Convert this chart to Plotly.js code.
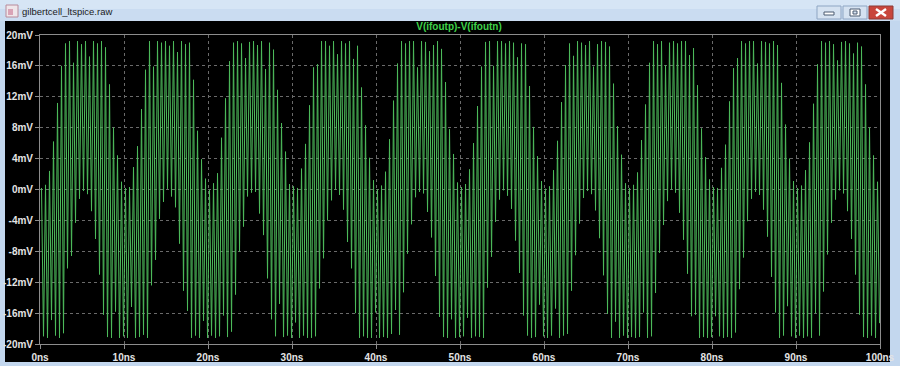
<!DOCTYPE html>
<html>
<head>
<meta charset="utf-8">
<script src="https://cdn.plot.ly/plotly-3.0.1.min.js"></script>
<style>
html,body{margin:0;padding:0;background:#c3d7ee;}
#chart{width:900px;height:366px;}
</style>
</head>
<body>
<div id="chart"></div>
<script>
// Trace: V(ifoutp)-V(ifoutn) in mV, one sample per half cycle of the ~2.1 GHz component
const traceName = "V(ifoutp)-V(ifoutn)";
const startTimeNs = 0.18;
const stepNs = 0.2381;
const voltage_mV = [
  0.2,
  -19.0, 0.6, -19.2, 2.4, -16.9, 6.2, -18.9, 11.2, -19.2, 16.0, -18.6, 18.9, -10.2, 19.2, -8.6, 16.4, -4.3, 19.2, -1.2, 18.8, -0.2, 19.2, -0.6, 17.2, -2.8, 19.2, -6.4, 18.9, -11.0, 19.2, -16.2, 18.4, -19.1, 13.6, -19.2, 8.0, -15.8, 4.4, -19.2, 1.0, -19.0, 0.2,
  -19.2, 0.3, -15.2, 2.9, -19.2, 5.6, -19.1, 10.4, -18.8, 15.5, -19.2, 19.2, -12.4, 15.9, -9.1, 19.2, -3.8, 19.0, -1.6, 19.2, 0.1, 18.6, -0.9, 19.2, -2.3, 17.8, -7.0, 19.2, -13.1, 18.8, -15.7, 19.0, -19.2, 14.2, -18.9, 7.6, -19.2, 3.9, -17.0, 1.4, -19.2, -0.1,
  -18.9, 0.8, -19.2, 2.1, -19.0, 6.7, -16.3, 11.8, -19.1, 16.6, -18.4, 19.0, -13.6, 19.2, -8.0, 18.9, -4.8, 17.0, -0.9, 19.1, -0.4, 19.2, -0.3, 18.7, -3.1, 19.2, -5.9, 15.6, -11.5, 19.0, -16.8, 18.1, -19.0, 12.9, -14.8, 8.6, -19.1, 4.9, -18.9, 0.7, -19.2, 0.4,
  -17.2, 0.2, -19.2, 2.7, -18.9, 5.9, -19.2, 10.9, -19.2, 15.8, -19.0, 16.2, -12.8, 19.2, -8.9, 19.2, -4.0, 18.6, -1.4, 19.2, 0.0, 17.5, -0.7, 19.2, -2.6, 18.9, -6.8, 19.2, -10.2, 16.9, -16.0, 18.6, -19.2, 13.2, -19.0, 8.3, -19.2, 4.1, -19.2, 1.2, -15.9, 0.0,
  -19.2, 0.5, -19.1, 2.3, -19.2, 6.5, -18.7, 11.5, -15.6, 16.3, -18.8, 19.2, -13.3, 18.9, -8.3, 19.2, -4.5, 19.2, -1.0, 15.8, -0.3, 19.2, -0.5, 19.1, -2.9, 17.9, -6.2, 18.7, -11.2, 19.2, -16.5, 18.2, -19.1, 13.9, -19.2, 7.8, -16.8, 4.6, -19.2, 0.9, -19.1, 0.3,
  -19.0, 0.7, -16.6, 2.6, -19.2, 6.0, -19.0, 10.8, -19.1, 15.9, -19.2, 19.1, -12.7, 19.2, -8.7, 16.0, -4.2, 19.2, -1.3, 19.2, -0.1, 18.9, -0.8, 19.2, -2.5, 19.0, -6.6, 17.1, -10.8, 18.9, -16.3, 18.8, -18.9, 13.4, -19.2, 8.1, -19.1, 4.3, -14.9, 1.1, -19.0, 0.1,
  -19.2, 0.4, -18.9, 2.5, -15.4, 6.3, -19.2, 11.3, -18.9, 16.1, -18.7, 18.9, -13.1, 17.3, -8.5, 19.2, -4.4, 19.0, -1.1, 18.7, -0.2, 19.2, -0.6, 15.9, -2.7, 18.8, -6.3, 19.2, -11.1, 19.1, -16.1, 18.5, -19.2, 13.7, -17.1, 8.2, -19.2, 4.5, -18.9, 0.8, -19.2, 0.2,
  -19.1, 0.6, -19.2, 2.2, -19.1, 6.4, -15.9, 11.0, -19.2, 16.4, -19.0, 19.2, -13.4, 18.8, -8.2, 19.2, -4.6, 16.1, -1.5, 19.0, 0.0, 19.2, -0.4, 18.9, -3.0, 19.2, -6.5, 19.2, -10.9, 17.4, -16.4, 18.3, -16.2, 13.5, -19.2, 7.9, -19.1, 4.2, -19.2, 1.3, -19.1, 0.3,
  -16.4, 0.2, -19.0, 2.8, -19.2, 5.8, -19.1, 11.4, -19.2, 15.7, -18.5, 17.0, -12.9, 19.2, -8.8, 18.9, -4.1, 19.2, -1.2, 19.2, -0.3, 16.3, -0.7, 19.2, -2.6, 19.1, -6.1, 18.9, -11.3, 19.2, -15.9, 18.7, -19.2, 13.8, -18.9, 8.4, -15.1, 4.0, -19.0, 1.1, -19.2, 0.2,
  -18.9, 0.5, -19.2, 2.5, -19.0, 6.1, -19.2, 11.1, -16.0, 16.2, -18.9, 19.2, -13.2, 19.0, -8.4, 19.2, -4.3, 18.8, -1.3, 16.7, -0.1, 19.1, -0.5, 19.2, -2.8, 18.9, -6.4, 17.6, -11.0, 19.0, -16.2, 18.5, -19.1, 13.6, -19.2, 8.0, -18.9, 4.4, -19.2, 1.0, -17.3
];
const yTickVals = [20, 16, 12, 8, 4, 0, -4, -8, -12, -16, -20];
const yTickText = ["20mV", "16mV", "12mV", "8mV", "4mV", "0mV", "-4mV", "-8mV", "-12mV", "-16mV", "-20mV"];
const xTickVals = [0, 10, 20, 30, 40, 50, 60, 70, 80, 90, 100];
const xTickText = ["0ns", "10ns", "20ns", "30ns", "40ns", "50ns", "60ns", "70ns", "80ns", "90ns", "100ns"];
const windowTitle = "gilbertcell_ltspice.raw";

// layout helpers: pixel -> paper coordinates
const W = 900, H = 366, ML = 40, MR = 20, MT = 35, MB = 22;
const PW = W - ML - MR, PH = H - MT - MB;
const px = v => (v - ML) / PW;
const py = v => (H - MB - v) / PH;
function rect(x0, y0, x1, y1, fill, line, lw, layer) {
  return {type: "rect", xref: "paper", yref: "paper", x0: px(x0), x1: px(x1), y0: py(y1), y1: py(y0),
    fillcolor: fill, line: {color: line || fill, width: lw === undefined ? 0 : lw}, layer: layer || "below"};
}
function seg(x0, y0, x1, y1, color, w) {
  return {type: "line", xref: "paper", yref: "paper", x0: px(x0), x1: px(x1), y0: py(y0), y1: py(y1),
    line: {color: color, width: w}, layer: "above"};
}

const shapes = [
  rect(0, 0, 900, 21, "#cadcf1"),
  rect(0, 0, 900, 9, "#d6e5f5"),
  rect(5, 21, 890, 362, "#000000"),
  // window icon
  rect(6, 5, 18, 17, "#efe6ea", "#b88a9a", 1, "above"),
  rect(8, 9, 13, 15, "#d9a3b6", "#d9a3b6", 0, "above"),
  // buttons
  rect(817, 6, 841, 19, "#d5e2f1", "#8ea5c3", 1, "above"),
  rect(843, 6, 867, 19, "#d5e2f1", "#8ea5c3", 1, "above"),
  rect(869, 6, 893, 19, "#c8463c", "#8b3a36", 1, "above"),
  rect(824, 12, 834, 15, "#ffffff", "#4a5a70", 1, "above"),
  rect(850, 9, 860, 16, "#ffffff", "#4a5a70", 1, "above"),
  rect(853, 11, 857, 14, "#d5e2f1", "#4a5a70", 1, "above"),
  seg(876, 9, 886, 16, "#ffffff", 2.5),
  seg(876, 16, 886, 9, "#ffffff", 2.5)
];

const data = [{
  type: "scatter",
  mode: "lines",
  name: traceName,
  x0: startTimeNs,
  dx: stepNs,
  y: voltage_mV,
  line: {color: "#4dbb5b", width: 1},
  hoverinfo: "skip"
}];

const tickFont = {family: "Liberation Sans, Arial, sans-serif", size: 10, color: "#e4e4e4", weight: "bold"};
const layout = {
  width: W, height: H,
  margin: {l: ML, r: MR, t: MT, b: MB, pad: 0},
  paper_bgcolor: "#c3d7ee",
  plot_bgcolor: "#000000",
  showlegend: false,
  title: {
    text: traceName,
    x: 459 / W, xref: "container", xanchor: "center",
    y: 1 - 26 / H, yref: "container", yanchor: "middle",
    font: {family: "Liberation Sans, Arial, sans-serif", size: 10, color: "#3fd24a", weight: "bold"}
  },
  xaxis: {
    range: [0, 100],
    tickvals: xTickVals, ticktext: xTickText,
    showgrid: true, gridcolor: "#6a6a6a", griddash: "dot", gridwidth: 1,
    zeroline: false,
    showline: true, linecolor: "#8c8c8c", linewidth: 1, mirror: true,
    ticks: "outside", ticklen: 4, tickcolor: "#8c8c8c",
    tickfont: tickFont,
    fixedrange: true
  },
  yaxis: {
    range: [-20, 20],
    tickvals: yTickVals, ticktext: yTickText,
    showgrid: true, gridcolor: "#6a6a6a", griddash: "dot", gridwidth: 1,
    zeroline: false,
    showline: true, linecolor: "#8c8c8c", linewidth: 1, mirror: true,
    ticks: "outside", ticklen: 4, tickcolor: "#8c8c8c",
    tickfont: tickFont,
    fixedrange: true
  },
  shapes: shapes,
  annotations: [{
    text: windowTitle, xref: "paper", yref: "paper",
    x: px(20), y: py(11), xanchor: "left", yanchor: "middle", showarrow: false,
    font: {family: "Liberation Sans, Arial, sans-serif", size: 9.5, color: "#1b1b1b"}
  }]
};

Plotly.newPlot("chart", data, layout, {staticPlot: true, displayModeBar: false});
</script>
</body>
</html>
